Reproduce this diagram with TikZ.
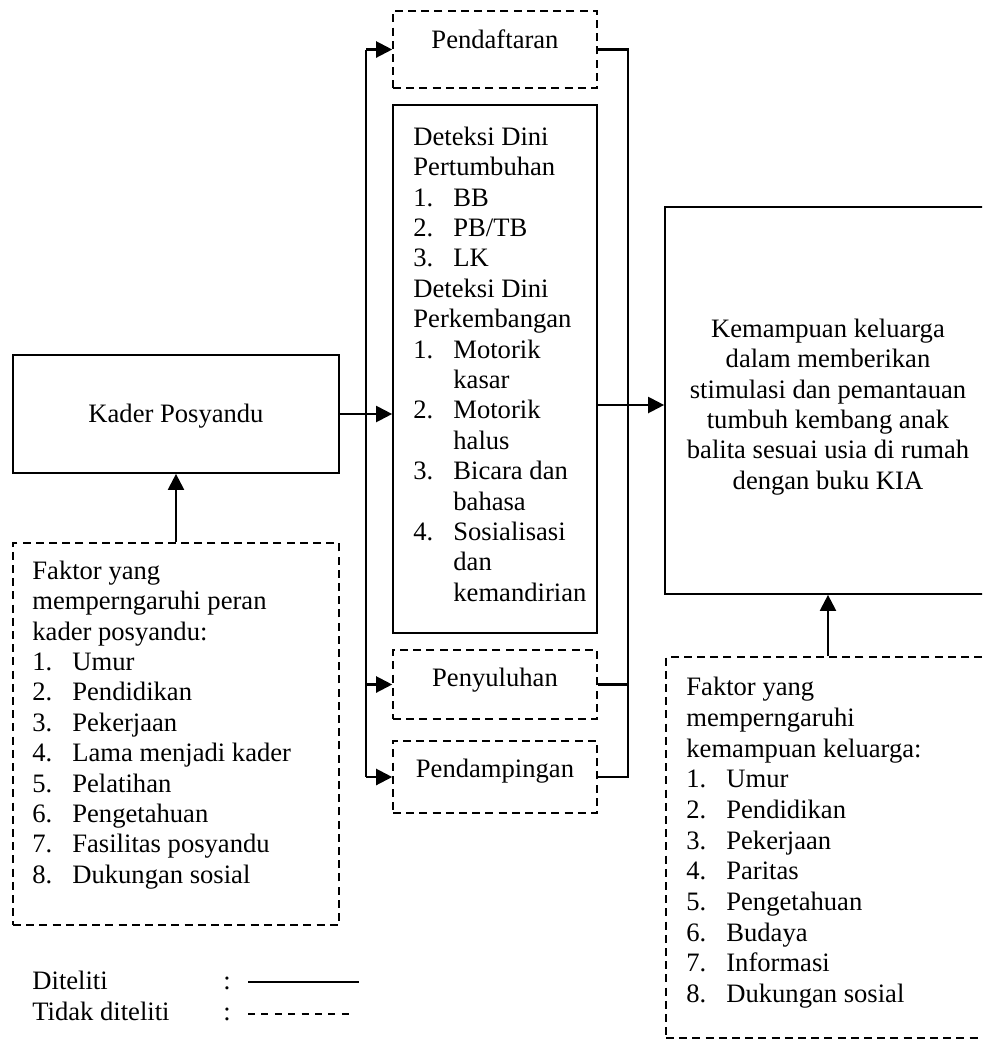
\documentclass[tikz,border=0pt]{standalone}
\usepackage{fontspec}
\setmainfont{Liberation Serif}
\usetikzlibrary{arrows.meta,fit}
\newcommand{\nm}[1]{\makebox[20pt][l]{#1}}
\newcommand{\ind}{\hspace*{20pt}}
\begin{document}
\begin{tikzpicture}[x=0.5pt,y=-0.5pt,
  every node/.style={font=\fontsize{13.3pt}{15.2pt}\selectfont},
  sbox/.style={draw, line width=0.85pt, inner sep=0pt},
  dbox/.style={draw, line width=0.8pt, dash pattern=on 4pt off 2.6pt, inner sep=0pt},
  txt/.style={inner sep=0pt, anchor=north west, align=left},
  ctxt/.style={inner sep=0pt, anchor=north, align=center},
  lbl/.style={inner sep=0pt, anchor=base},
  conn/.style={line width=1.1pt},
  arr/.style={line width=1.1pt, -{Triangle[length=8pt,width=8pt]}},
  legsolid/.style={line width=1pt},
  legdash/.style={line width=0.8pt, dash pattern=on 3.5pt off 3.2pt}]
\useasboundingbox (0,0) rectangle (982,1041);
\clip (0,0) rectangle (982,1041);

% boxes
\node[dbox, fit={(393,11)(597,88)}] (pend) {};
\node[sbox, fit={(393,105)(597,633)}] (main) {};
\node[dbox, fit={(393,650)(597,719)}] (peny) {};
\node[dbox, fit={(393,741)(597,813)}] (pdamp) {};
\node[sbox, fit={(13,355)(339,473)}] (kader) {};
\node[dbox, fit={(13,543)(339,925)}] (lf) {};
\node[sbox, fit={(665,207)(990,594)}] (rb) {};
\node[dbox, fit={(666,657)(990,1038)}] (rf) {};

% texts
\node[lbl] (tpend) at (495,48) {Pendaftaran};
\node[lbl] (tpeny) at (495,686) {Penyuluhan};
\node[lbl] (tpdamp) at (495,777) {Pendampingan};
\node[lbl] (tkader) at (176,422) {Kader Posyandu};

\node[txt] (tmain) at (413,123.7) {\strut Deteksi Dini\\
Pertumbuhan\\
\nm{1.}BB\\
\nm{2.}PB/TB\\
\nm{3.}LK\\
Deteksi Dini\\
Perkembangan\\
\nm{1.}Motorik\\
\ind kasar\\
\nm{2.}Motorik\\
\ind halus\\
\nm{3.}Bicara dan\\
\ind bahasa\\
\nm{4.}Sosialisasi\\
\ind dan\\
\ind kemandirian};

\node[txt] (tlf) at (32,557.7) {\strut Faktor yang\\
memperngaruhi peran\\
kader posyandu:\\
\nm{1.}Umur\\
\nm{2.}Pendidikan\\
\nm{3.}Pekerjaan\\
\nm{4.}Lama menjadi kader\\
\nm{5.}Pelatihan\\
\nm{6.}Pengetahuan\\
\nm{7.}Fasilitas posyandu\\
\nm{8.}Dukungan sosial};

\node[txt, font=\fontsize{13.3pt}{15.35pt}\selectfont] (trf) at (686,673.7) {\strut Faktor yang\\
memperngaruhi\\
kemampuan keluarga:\\
\nm{1.}Umur\\
\nm{2.}Pendidikan\\
\nm{3.}Pekerjaan\\
\nm{4.}Paritas\\
\nm{5.}Pengetahuan\\
\nm{6.}Budaya\\
\nm{7.}Informasi\\
\nm{8.}Dukungan sosial};

\node[ctxt] (trb) at (828,315.7) {\strut Kemampuan keluarga\\
dalam memberikan\\
stimulasi dan pemantauan\\
tumbuh kembang anak\\
balita sesuai usia di rumah\\
dengan buku KIA};

% connectors
\coordinate (lt) at (366,0);
\coordinate (rt) at (628,0);
\coordinate (mo) at (597,405);
\draw[conn] (pend.west -| lt) -- (pdamp.west -| lt);
\draw[arr] (pend.west -| lt) -- (pend.west);
\draw[arr] (peny.west -| lt) -- (peny.west);
\draw[arr] (pdamp.west -| lt) -- (pdamp.west);
\draw[arr] (kader.east) -- (kader.east -| main.west);
\draw[conn] (pend.east) -- (pend.east -| rt) -- (pdamp.east -| rt) -- (pdamp.east);
\draw[conn] (peny.east) -- (peny.east -| rt);
\draw[arr] (mo) -- (mo -| rb.west);
\draw[arr] (lf.north -| kader.south) -- (kader.south);
\draw[arr] (rf.north) -- (rf.north |- rb.south);

% legend
\node[inner sep=0pt, anchor=base west] (l1) at (32,989) {Diteliti};
\node[inner sep=0pt, anchor=base west] (l2) at (32,1020) {Tidak diteliti};
\node[inner sep=0pt, anchor=base west] (c1) at (223,989) {:};
\node[inner sep=0pt, anchor=base west] (c2) at (223,1020) {:};
\coordinate (s1a) at (248,982);
\coordinate (s1b) at (359,982);
\coordinate (s2a) at (248,1014);
\coordinate (s2b) at (355,1014);
\draw[legsolid] (s1a) -- (s1b);
\draw[legdash] (s2a) -- (s2b);
\end{tikzpicture}
\end{document}
